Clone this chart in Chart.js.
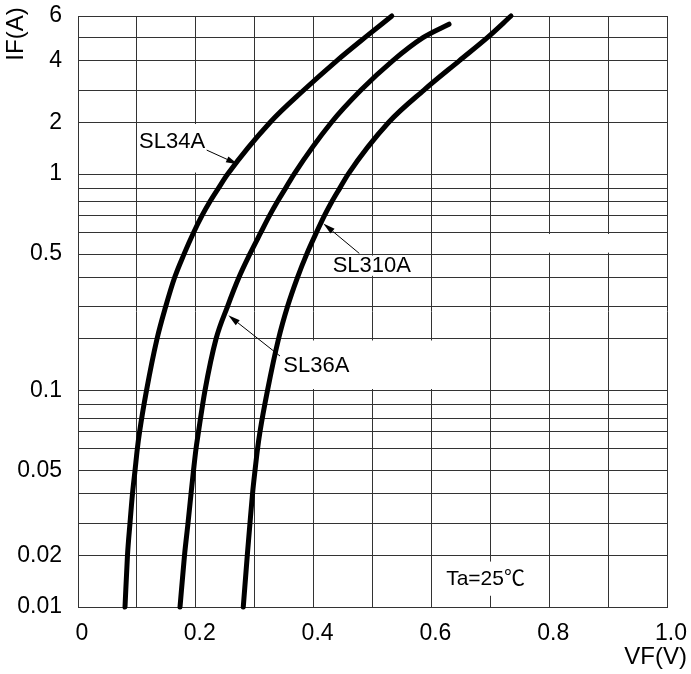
<!DOCTYPE html>
<html>
<head>
<meta charset="utf-8">
<script src="https://cdn.jsdelivr.net/npm/chart.js@4.4.0/dist/chart.umd.min.js"></script>
<style>
html, body { margin: 0; padding: 0; background: #fff; }
</style>
</head>
<body>
<canvas id="c" width="691" height="674"></canvas>
<script>
// 正向特性 IF-VF  (Ta=25℃)
var gridX = [0, 0.1, 0.2, 0.3, 0.4, 0.5, 0.6, 0.7, 0.8, 0.9, 1.0];
var xTickVals = [0, 0.2, 0.4, 0.6, 0.8, 1.0];
var xTickText = ["0", "0.2", "0.4", "0.6", "0.8", "1.0"];

var gridY = [0.01, 0.02, 0.03, 0.04, 0.05, 0.06, 0.07, 0.08, 0.09,
             0.1, 0.2, 0.3, 0.4, 0.5, 0.6, 0.7, 0.8, 0.9,
             1, 2, 3, 4, 5, 6];
var yTickVals = [0.01, 0.02, 0.05, 0.1, 0.5, 1, 2, 4, 6];
var yTickText = ["0.01", "0.02", "0.05", "0.1", "0.5", "1", "2", "4", "6"];

// the printed log grid is squeezed: where mantissa 1..10 sits inside one decade
var decadeFrac = [0, 0.238, 0.388, 0.523, 0.630, 0.730, 0.810, 0.872, 0.935, 1];

var ifSL34A = [0.01, 0.02, 0.03, 0.04, 0.05, 0.06, 0.07, 0.1, 0.2, 0.3, 0.4, 0.5, 0.6, 0.7, 0.8, 0.9, 1, 2, 3, 4, 5, 6];
var vfSL34A = [0.0798, 0.0840, 0.0883, 0.0925, 0.0968, 0.1007, 0.1046, 0.1163, 0.1341, 0.1489, 0.1642, 0.1800, 0.1963, 0.2109, 0.2238, 0.2385, 0.2542, 0.3260, 0.3835, 0.4392, 0.4869, 0.5328];

var ifSL36A = [0.01, 0.02, 0.03, 0.04, 0.05, 0.06, 0.07, 0.1, 0.2, 0.3, 0.4, 0.5, 0.6, 0.7, 0.8, 0.9, 1, 2, 3, 4, 5, 5.6];
var vfSL36A = [0.1732, 0.1808, 0.1868, 0.1919, 0.1961, 0.2003, 0.2046, 0.2156, 0.2343, 0.2538, 0.2733, 0.2917, 0.3104, 0.3256, 0.3384, 0.3525, 0.3669, 0.4301, 0.4805, 0.5341, 0.5857, 0.6299];

var ifSL310A = [0.01, 0.02, 0.03, 0.04, 0.05, 0.06, 0.07, 0.1, 0.2, 0.3, 0.4, 0.5, 0.6, 0.7, 0.8, 0.9, 1, 2, 3, 4, 5, 6];
var vfSL310A = [0.2806, 0.2874, 0.2920, 0.2963, 0.3005, 0.3048, 0.3090, 0.3217, 0.3404, 0.3557, 0.3727, 0.3883, 0.4048, 0.4188, 0.4309, 0.4445, 0.4587, 0.5272, 0.5874, 0.6472, 0.6949, 0.7351];

var FONT = "'Liberation Sans', Arial, 'Noto Sans CJK SC', sans-serif";
var GRID = "#333";

function warp(v) {
    var lg = Math.log10(v), d = Math.floor(lg + 1e-9), m = Math.pow(10, lg - d);
    var i = Math.max(0, Math.min(8, Math.floor(m + 1e-9) - 1));
    var a = Math.log10(i + 1), b = Math.log10(i + 2);
    return d + decadeFrac[i] + (decadeFrac[i + 1] - decadeFrac[i]) * (Math.log10(m) - a) / (b - a);
}
function unwarp(w) {
    var d = Math.floor(w), f = w - d, i = 0;
    while (i < 8 && f > decadeFrac[i + 1]) i++;
    var a = Math.log10(i + 1), b = Math.log10(i + 2);
    return Math.pow(10, d + a + (b - a) * (f - decadeFrac[i]) / (decadeFrac[i + 1] - decadeFrac[i]));
}

class WarpLogScale extends Chart.LogarithmicScale {
    getPixelForValue(value) {
        var lo = warp(this.min), hi = warp(this.max);
        return this.getPixelForDecimal((warp(value) - lo) / (hi - lo));
    }
    getValueForPixel(pixel) {
        var lo = warp(this.min), hi = warp(this.max);
        return unwarp(lo + this.getDecimalForPixel(pixel) * (hi - lo));
    }
}
WarpLogScale.id = "warplog";
WarpLogScale.defaults = Chart.LogarithmicScale.defaults;
Chart.register(WarpLogScale);

function pts(vf, cur) { return vf.map(function (v, i) { return { x: v, y: cur[i] }; }); }
function curve(vf, cur) {
    return { data: pts(vf, cur), showLine: true, borderColor: "#000", borderWidth: 5, pointRadius: 0,
             cubicInterpolationMode: "monotone", borderCapStyle: "round", borderJoinStyle: "round", clip: false };
}
function lookup(vals, txt, v) {
    for (var k = 0; k < vals.length; k++) if (Math.abs(vals[k] - v) < 1e-9) return txt[k];
    return "";
}

// white patches the drawing leaves round its labels  [vf0, vf1, if0, if1]
var patches = [[0.1, 0.3, 1, 2], [0.4, 0.6, 0.4, 0.5], [0.7, 1.0, 0.5, 0.6], [0.3, 0.7, 0.1, 0.2], [0.6, 0.8, 0.0114, 0.0188]];
var arrows = [[0.2185, 1.38, 0.2716, 1.14], [0.4776, 0.503, 0.4165, 0.65], [0.343, 0.159, 0.2552, 0.269]];
var notes = [["SL34A", 0.1036, 1.53, 22], ["SL310A", 0.4324, 0.445, 22], ["SL36A", 0.3486, 0.139, 22], ["Ta=25℃", 0.625, 0.01456, 21]];

var patchPlugin = {
    id: "patches",
    beforeDatasetsDraw: function (chart) {
        var ctx = chart.ctx, sx = chart.scales.x, sy = chart.scales.y;
        ctx.save();
        ctx.fillStyle = "#fff";
        patches.forEach(function (p) {
            var x0 = sx.getPixelForValue(p[0]) + 1.5, x1 = sx.getPixelForValue(p[1]) - 1.5;
            var y0 = sy.getPixelForValue(p[3]) + 1.5, y1 = sy.getPixelForValue(p[2]) - 1.5;
            ctx.fillRect(x0, y0, x1 - x0, y1 - y0);
        });
        ctx.restore();
    }
};

var notePlugin = {
    id: "notes",
    afterDatasetsDraw: function (chart) {
        var ctx = chart.ctx, sx = chart.scales.x, sy = chart.scales.y, ca = chart.chartArea;
        ctx.save();
        ctx.strokeStyle = "#000"; ctx.fillStyle = "#000"; ctx.lineWidth = 1;
        arrows.forEach(function (a) {
            var x0 = sx.getPixelForValue(a[0]), y0 = sy.getPixelForValue(a[1]);
            var x1 = sx.getPixelForValue(a[2]), y1 = sy.getPixelForValue(a[3]);
            var ang = Math.atan2(y1 - y0, x1 - x0), L = 12, W = 3.2;
            var bx = x1 - L * Math.cos(ang), by = y1 - L * Math.sin(ang);
            ctx.beginPath(); ctx.moveTo(x0, y0); ctx.lineTo(bx, by); ctx.stroke();
            ctx.beginPath(); ctx.moveTo(x1, y1);
            ctx.lineTo(bx + W * Math.sin(ang), by - W * Math.cos(ang));
            ctx.lineTo(bx - W * Math.sin(ang), by + W * Math.cos(ang));
            ctx.closePath(); ctx.fill();
        });
        ctx.textAlign = "left"; ctx.textBaseline = "middle";
        notes.forEach(function (n) {
            ctx.font = n[3] + "px " + FONT;
            ctx.fillText(n[0], sx.getPixelForValue(n[1]), sy.getPixelForValue(n[2]));
        });
        // axis titles
        ctx.font = "24px " + FONT;
        ctx.textAlign = "right";
        ctx.fillText("VF(V)", ca.right + 20, ca.bottom + 50);
        ctx.translate(16, ca.top + 18);
        ctx.rotate(-Math.PI / 2);
        ctx.textAlign = "center";
        ctx.fillText("IF(A)", 0, 0);
        ctx.restore();
    }
};

new Chart(document.getElementById("c"), {
    type: "scatter",
    data: {
        datasets: [
            curve(vfSL34A, ifSL34A),
            curve(vfSL36A, ifSL36A),
            curve(vfSL310A, ifSL310A)
        ]
    },
    options: {
        responsive: false,
        animation: false,
        layout: { padding: { top: 16, right: 24, left: 0, bottom: 0 } },
        plugins: { legend: { display: false }, tooltip: { enabled: false } },
        scales: {
            x: {
                type: "linear", min: 0, max: 1,
                afterBuildTicks: function (s) { s.ticks = gridX.map(function (v) { return { value: v }; }); },
                afterFit: function (s) { s.height = 67; s.paddingLeft = 0; s.paddingRight = 0; },
                grid: { color: GRID, lineWidth: 1, drawTicks: false },
                border: { color: GRID, width: 1 },
                ticks: {
                    autoSkip: false, maxRotation: 0, padding: 13, labelOffset: 4, color: "#000",
                    font: { family: FONT, size: 23 },
                    callback: function (v) { return lookup(xTickVals, xTickText, v); }
                }
            },
            y: {
                type: "warplog", min: 0.01, max: 6,
                afterBuildTicks: function (s) { s.ticks = gridY.map(function (v) { return { value: v }; }); },
                afterFit: function (s) { s.width = 78; s.paddingTop = 0; s.paddingBottom = 0; },
                grid: { color: GRID, lineWidth: 1, drawTicks: false },
                border: { color: GRID, width: 1 },
                ticks: {
                    autoSkip: false, padding: 16, color: "#000",
                    font: { family: FONT, size: 23 },
                    callback: function (v) { return lookup(yTickVals, yTickText, v); }
                }
            }
        }
    },
    plugins: [patchPlugin, notePlugin]
});
</script>
</body>
</html>
